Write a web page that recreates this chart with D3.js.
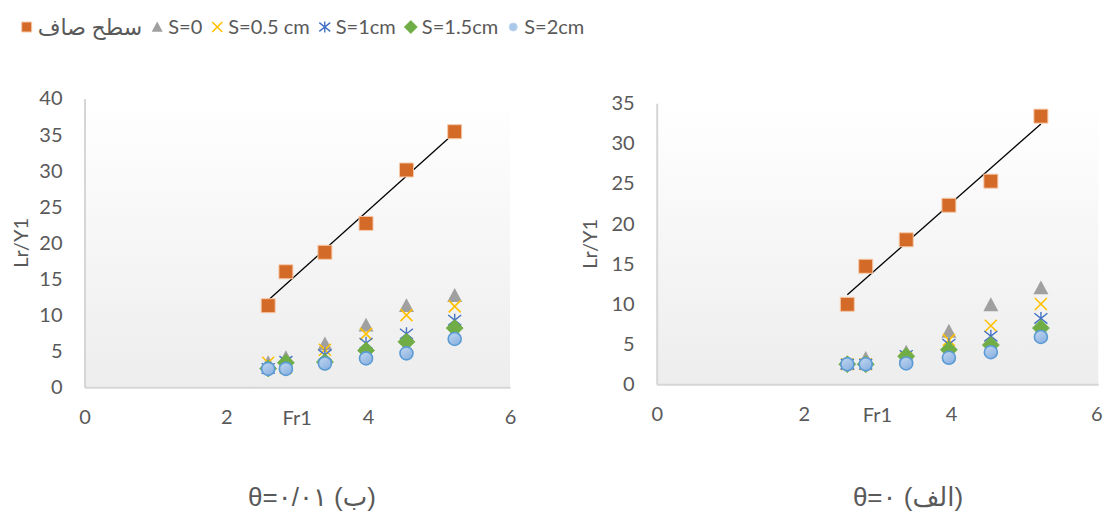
<!DOCTYPE html>
<html>
<head>
<meta charset="utf-8">
<script src="https://cdn.jsdelivr.net/npm/d3@7"></script>
<style>
  html, body { margin: 0; padding: 0; background: #ffffff; }
  svg { display: block; }
  text { font-family: Lato, "Open Sans", "DejaVu Sans", sans-serif; fill: #595959; }
</style>
</head>
<body>
<svg id="chart" width="1103" height="511"></svg>
<script>
// Froude numbers shared by every series
const froude = [2.59, 2.84, 3.39, 3.97, 4.54, 5.22];

const seriesNames = ["سطح صاف", "S=0", "S=0.5 cm", "S=1cm", "S=1.5cm", "S=2cm"];
const xTicks = [0, 2, 4, 6];
const yTicksA = [0, 5, 10, 15, 20, 25, 30, 35];
const yTicksB = [0, 5, 10, 15, 20, 25, 30, 35, 40];
const xTitle = "Fr1";
const yTitle = "Lr/Y1";

// θ = 0  (الف)
const smoothA = [9.96, 14.7, 18.0, 22.3, 25.3, 33.4];
const s0A     = [2.6, 3.2, 4.0, 6.6, 9.9, 12.0];
const s05A    = [2.5, 2.5, 3.2, 5.5, 7.3, 10.0];
const s1A     = [2.5, 2.5, 3.6, 5.0, 6.0, 8.2];
const s15A    = [2.5, 2.5, 3.5, 4.3, 4.9, 7.0];
const s2A     = [2.5, 2.5, 2.6, 3.3, 4.0, 5.9];

// θ = 0.01  (ب)
const smoothB = [11.3, 16.0, 18.7, 22.7, 30.1, 35.4];
const s0B     = [3.4, 4.1, 6.0, 8.6, 11.3, 12.7];
const s05B    = [3.4, 2.7, 5.2, 7.4, 10.0, 11.2];
const s1B     = [2.6, 3.6, 4.5, 6.1, 7.4, 9.3];
const s15B    = [2.6, 3.4, 3.5, 5.1, 6.3, 8.2];
const s2B     = [2.55, 2.55, 3.3, 4.0, 4.7, 6.7];

const captionA = "θ=۰ (الف)";
const captionB = "θ=۰/۰۱ (ب)";

// ---------- marker shapes (size = side length squared) ----------
const shapes = {
  square: { draw(ctx, size) { const h = Math.sqrt(size) / 2; ctx.rect(-h, -h, 2 * h, 2 * h); } },
  triangle: { draw(ctx, size) {
    const h = Math.sqrt(size) / 2;
    ctx.moveTo(0, -h); ctx.lineTo(h, h * 0.85); ctx.lineTo(-h, h * 0.85); ctx.closePath();
  } },
  cross: { draw(ctx, size) {
    const h = Math.sqrt(size) / 2;
    ctx.moveTo(-h, -h); ctx.lineTo(h, h); ctx.moveTo(h, -h); ctx.lineTo(-h, h);
  } },
  star: { draw(ctx, size) {
    const h = Math.sqrt(size) / 2;
    ctx.moveTo(-h, -h * 0.8); ctx.lineTo(h, h * 0.8); ctx.moveTo(h, -h * 0.8); ctx.lineTo(-h, h * 0.8);
    ctx.moveTo(0, -h); ctx.lineTo(0, h);
  } },
  diamond: { draw(ctx, size) {
    const h = Math.sqrt(size) / 2;
    ctx.moveTo(0, -h); ctx.lineTo(h, 0); ctx.lineTo(0, h); ctx.lineTo(-h, 0); ctx.closePath();
  } },
  circle: { draw(ctx, size) { const r = Math.sqrt(size) / 2; ctx.moveTo(r, 0); ctx.arc(0, 0, r, 0, 2 * Math.PI); } }
};

const styles = [
  { shape: shapes.square,   side: 14, legendSide: 10, fill: "#d46a28", stroke: "#f6c9a9", sw: 1 },
  { shape: shapes.triangle, side: 15, legendSide: 11, fill: "#a0a0a0", stroke: "none", sw: 0 },
  { shape: shapes.cross,    side: 12, legendSide: 10, fill: "none", stroke: "#ffc000", sw: 1.6 },
  { shape: shapes.star,     side: 13, legendSide: 11, fill: "none", stroke: "#4472c4", sw: 1.4 },
  { shape: shapes.diamond,  side: 17, legendSide: 13, fill: "#70ad47", stroke: "#70ad47", sw: 0.8 },
  { shape: shapes.circle,   side: 13, legendSide: 8,  fill: "url(#circleFill)", stroke: "#5b9bd5", sw: 1.6 }
];

const svg = d3.select("#chart");
const defs = svg.append("defs");

const bg = defs.append("linearGradient").attr("id", "plotBg")
  .attr("x1", 0).attr("y1", 0).attr("x2", 0).attr("y2", 1);
bg.append("stop").attr("offset", "0%").attr("stop-color", "#ffffff");
bg.append("stop").attr("offset", "100%").attr("stop-color", "#ededed");

const cf = defs.append("linearGradient").attr("id", "circleFill")
  .attr("x1", 0).attr("y1", 0).attr("x2", 0.6).attr("y2", 1);
cf.append("stop").attr("offset", "0%").attr("stop-color", "#c3d8f0");
cf.append("stop").attr("offset", "100%").attr("stop-color", "#8db3e2");

// ---------- legend ----------
const legend = svg.append("g").attr("transform", "translate(0,27)");
let lx = 26.7;
seriesNames.forEach((name, i) => {
  const st = styles[i];
  legend.append("path")
    .attr("transform", `translate(${lx},0)`)
    .attr("d", d3.symbol().type(st.shape).size(st.legendSide * st.legendSide)())
    .attr("fill", i === 5 ? "#a9c8ea" : st.fill)
    .attr("stroke", i === 5 ? "#bcd4ef" : st.stroke)
    .attr("stroke-width", i === 5 ? 1 : st.sw);
  const t = legend.append("text")
    .attr("x", lx + 11).attr("y", 0).attr("dy", "0.36em")
    .attr("font-size", i === 0 ? 22 : 20).text(name);
  lx += 11 + t.node().getComputedTextLength() + 15;
});

// ---------- panels ----------
function panel(cfg) {
  const g = svg.append("g");
  const x = d3.scaleLinear().domain([0, 6]).range([cfg.left, cfg.right]);
  const y = d3.scaleLinear().domain([0, cfg.yMax]).range([cfg.bottom, cfg.top]);

  g.append("rect")
    .attr("x", cfg.left).attr("y", cfg.top)
    .attr("width", cfg.right - cfg.left).attr("height", cfg.bottom - cfg.top)
    .attr("fill", "url(#plotBg)");

  const yAxis = g.append("g").attr("transform", `translate(${cfg.left},0)`)
    .call(d3.axisLeft(y).tickValues(cfg.yTicks).tickFormat(d3.format("d")).tickSize(0).tickPadding(22));
  const xAxis = g.append("g").attr("transform", `translate(0,${cfg.bottom})`)
    .call(d3.axisBottom(x).tickValues(xTicks).tickFormat(d3.format("d")).tickSize(0).tickPadding(23));
  [xAxis, yAxis].forEach(a => {
    a.select(".domain").attr("stroke", "#d6d6d6").attr("stroke-width", 2);
    a.selectAll("text").attr("font-size", 20).attr("fill", "#595959")
      .style("font-family", "Lato, 'Open Sans', sans-serif");
  });
  // keep the last x label inside the page edge
  xAxis.selectAll(".tick text").filter(d => x(d) + 6 > 1103).attr("dx", -2);

  // axis titles
  g.append("text")
    .attr("x", (cfg.left + cfg.right) / 2).attr("y", cfg.bottom + 23).attr("dy", "0.71em")
    .attr("text-anchor", "middle").attr("font-size", 20).text(xTitle);
  g.append("text")
    .attr("transform", `translate(${cfg.yTitleX},${(cfg.top + cfg.bottom) / 2}) rotate(-90)`)
    .attr("text-anchor", "middle").attr("font-size", 20).text(yTitle);

  // linear trendline through the smooth-bed series
  const ys = cfg.series[0];
  const mx = d3.mean(froude), my = d3.mean(ys);
  const slope = d3.sum(froude, (v, i) => (v - mx) * (ys[i] - my)) / d3.sum(froude, v => (v - mx) * (v - mx));
  const icpt = my - slope * mx;
  const ext = d3.extent(froude);
  g.append("path")
    .datum(ext.map(v => [v, icpt + slope * v]))
    .attr("d", d3.line().x(d => x(d[0])).y(d => y(d[1])))
    .attr("stroke", "#000").attr("stroke-width", 1.3).attr("fill", "none");

  // markers, drawn in series order
  cfg.series.forEach((vals, si) => {
    const st = styles[si];
    g.append("g").selectAll("path")
      .data(vals.map((v, i) => [froude[i], v]))
      .join("path")
      .attr("transform", d => `translate(${x(d[0])},${y(d[1])})`)
      .attr("d", d3.symbol().type(st.shape).size(st.side * st.side)())
      .attr("fill", st.fill).attr("stroke", st.stroke).attr("stroke-width", st.sw);
  });

  // caption
  svg.append("text")
    .attr("x", cfg.captionX).attr("y", 506)
    .attr("text-anchor", "middle").attr("direction", "ltr")
    .attr("font-size", 26)
    .style("font-family", "'Liberation Sans', 'DejaVu Sans', sans-serif")
    .attr("fill", "#000")
    .text(cfg.caption);
}

panel({ left: 84.5, right: 510, top: 98.5, bottom: 387.3, yMax: 40, yTicks: yTicksB,
        yTitleX: 28, captionX: 312, caption: captionB,
        series: [smoothB, s0B, s05B, s1B, s15B, s2B] });

panel({ left: 656.7, right: 1098.3, top: 103.3, bottom: 384.3, yMax: 35, yTicks: yTicksA,
        yTitleX: 597, captionX: 908, caption: captionA,
        series: [smoothA, s0A, s05A, s1A, s15A, s2A] });
</script>
</body>
</html>
